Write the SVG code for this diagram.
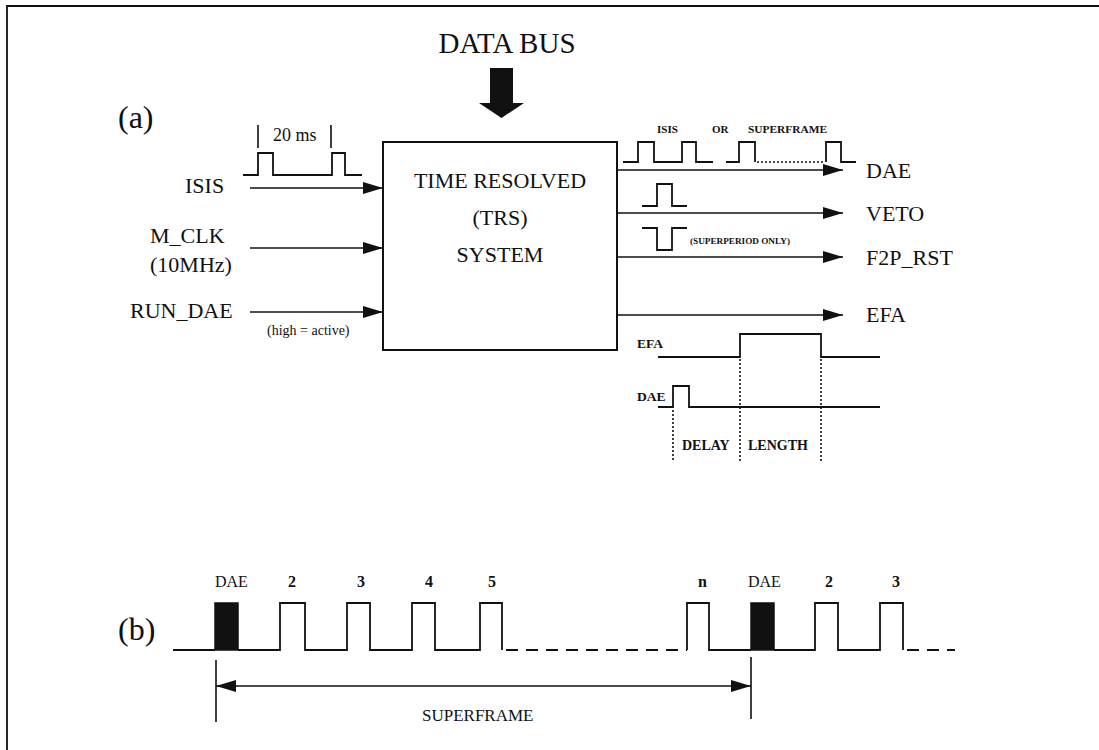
<svg xmlns="http://www.w3.org/2000/svg" width="1099" height="750" viewBox="0 0 1099 750">
<style>
text{font-family:"Liberation Serif","Times New Roman",serif;fill:#111}
.w{fill:none;stroke:#111;stroke-width:1.8}
.c{fill:none;stroke:#111;stroke-width:1.6}
.dot{fill:none;stroke:#111;stroke-width:1.6;stroke-dasharray:2 2}
.dash{fill:none;stroke:#111;stroke-width:1.8;stroke-dasharray:12 8}
.big{font-size:22px}
.sm{font-size:11px;font-weight:bold}
.lb{font-size:13.5px;font-weight:bold}
.nb{font-size:16px;font-weight:bold}
</style>
<defs>
<marker id="ah" markerWidth="20" markerHeight="12" refX="20" refY="6" orient="auto" markerUnits="userSpaceOnUse">
<path d="M0,0 L20,6 L0,12 Z" fill="#111"/>
</marker>
<marker id="ahs" markerWidth="20" markerHeight="12" refX="20" refY="6" orient="auto-start-reverse" markerUnits="userSpaceOnUse">
<path d="M0,0 L20,6 L0,12 Z" fill="#111"/>
</marker>
</defs>
<rect width="1099" height="750" fill="#fff"/>
<g id="frame">
<path class="w" d="M7,750 L7,6 L1099,6"/>
</g>
<g id="label-a"><text x="118" y="128" font-size="32">(a)</text></g>
<g id="label-b"><text x="118" y="640" font-size="32">(b)</text></g>
<g id="databus">
<text x="507" y="53" font-size="29" text-anchor="middle">DATA BUS</text>
<polygon points="490,68 513,68 513,103 524,103 501.5,118 479,103 490,103" fill="#111"/>
</g>
<g id="trs-box">
<rect x="383" y="142" width="234" height="208" fill="none" stroke="#111" stroke-width="2"/>
<text x="500" y="188" class="big" text-anchor="middle">TIME RESOLVED</text>
<text x="500" y="225" class="big" text-anchor="middle">(TRS)</text>
<text x="500" y="262" class="big" text-anchor="middle">SYSTEM</text>
</g>
<g id="inputs">
<text x="185" y="193" class="big">ISIS</text>
<text x="150" y="243" class="big">M_CLK</text>
<text x="150" y="272" class="big">(10MHz)</text>
<text x="130" y="318" class="big">RUN_DAE</text>
<text x="267" y="335" font-size="14">(high = active)</text>
<g id="isis-wave">
<path class="c" d="M258,125 V148 M331,125 V148"/>
<text x="273" y="141" font-size="18">20 ms</text>
<path class="w" d="M243,175 H258 V153 H273 V175 H332 V153 H345 V175 H362"/>
</g>
</g>
<g id="outputs">
<text x="866" y="178" class="big">DAE</text>
<text x="866" y="221" class="big">VETO</text>
<text x="866" y="265" class="big">F2P_RST</text>
<text x="866" y="322" class="big">EFA</text>
<text x="657" y="133" class="sm">ISIS</text>
<text x="712" y="133" class="sm">OR</text>
<text x="748" y="133" class="sm" textLength="79" lengthAdjust="spacingAndGlyphs">SUPERFRAME</text>
<path class="w" d="M623,162 H638 V142 H654 V162 H682 V142 H696 V162 H713"/>
<path class="w" d="M726,162 H739 V142 H755 V162"/>
<path class="dot" d="M757,162 H824"/>
<path class="w" d="M826,162 V142 H841 V162 H856"/>
<path class="w" d="M642,206 H657 V184 H672 V206 H687"/>
<path class="w" d="M642,228 H657 V250 H672 V228 H687"/>
<text x="690" y="244" font-size="8.5" font-weight="bold" textLength="100" lengthAdjust="spacingAndGlyphs">(SUPERPERIOD ONLY)</text>
</g>
<g id="efa-timing">
<text x="637" y="348" class="lb">EFA</text>
<text x="637" y="401" class="lb">DAE</text>
<path class="w" d="M658,357 H740 V334 H821 V357 H880"/>
<path class="w" d="M658,407 H673 V386 H689 V407 H880"/>
<path class="dot" d="M673,410 V462 M740,359 V462 M821,359 V462"/>
<text x="682" y="450" font-size="14" font-weight="bold">DELAY</text>
<text x="748" y="450" font-size="14" font-weight="bold">LENGTH</text>
</g>
<g id="superframe">
<text x="215" y="587" font-size="16">DAE</text>
<text x="288" y="587" class="nb">2</text>
<text x="357" y="587" class="nb">3</text>
<text x="425" y="587" class="nb">4</text>
<text x="488" y="587" class="nb">5</text>
<text x="698" y="587" class="nb">n</text>
<text x="748" y="587" font-size="16">DAE</text>
<text x="825" y="587" class="nb">2</text>
<text x="892" y="587" class="nb">3</text>
<rect x="215" y="603" width="23" height="47" fill="#111" stroke="#111" stroke-width="1.5"/>
<rect x="751" y="603" width="23" height="47" fill="#111" stroke="#111" stroke-width="1.5"/>
<path class="w" d="M173,650 H215 M238,650 H280 V603 H305 V650 H347 V603 H370 V650 H412 V603 H435 V650 H480 V603 H502 V650"/>
<path class="dash" d="M506,650 H687"/>
<path class="w" d="M687,650 V603 H709 V650 H751 M774,650 H815 V603 H838 V650 H880 V603 H903 V650"/>
<path class="dash" d="M907,650 H955"/>
<text x="422" y="721" font-size="17">SUPERFRAME</text>
</g>
<g id="connectors">
<path class="c" d="M250,188 H383" marker-end="url(#ah)"/>
<path class="c" d="M250,248 H383" marker-end="url(#ah)"/>
<path class="c" d="M250,312 H383" marker-end="url(#ah)"/>
<path class="c" d="M617,170 H843" marker-end="url(#ah)"/>
<path class="c" d="M617,213 H843" marker-end="url(#ah)"/>
<path class="c" d="M617,257 H843" marker-end="url(#ah)"/>
<path class="c" d="M617,315 H843" marker-end="url(#ah)"/>
<path class="c" d="M216,660 V722 M751,657 V719"/>
<path class="c" d="M216,686 H751" marker-start="url(#ahs)" marker-end="url(#ah)"/>
</g>
</svg>
